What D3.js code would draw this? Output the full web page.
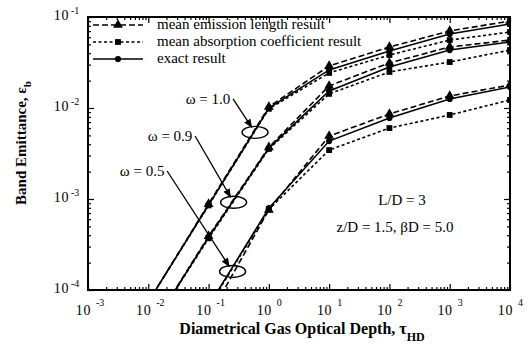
<!DOCTYPE html>
<html>
<head>
<meta charset="utf-8">
<script src="https://cdn.jsdelivr.net/npm/d3@7"></script>
<style>
  html, body { margin: 0; padding: 0; background: #fff; }
  svg { display: block; }
  text { font-family: "Liberation Serif", "Times New Roman", serif; fill: #000; }
</style>
</head>
<body>
<div id="chart"></div>
<script>
// ---------------- data ----------------
const tau = [0.01, 0.1, 1, 10, 100, 1000, 10000];

// omega = 1.0
const emission10   = [7.4e-5, 8.8e-4, 0.0103, 0.0290, 0.0468, 0.0702, 0.0904];
const absorption10 = [7.4e-5, 8.5e-4, 0.0098, 0.0243, 0.0382, 0.0558, 0.0684];
const exact10      = [7.4e-5, 8.6e-4, 0.0100, 0.0262, 0.0423, 0.0650, 0.0838];
// omega = 0.9
const emission09   = [3.4e-5, 3.9e-4, 0.0037, 0.0175, 0.0313, 0.0468, 0.0558];
const absorption09 = [3.4e-5, 3.7e-4, 0.00355, 0.0143, 0.0249, 0.0320, 0.0433];
const exact09      = [3.4e-5, 3.8e-4, 0.00363, 0.0154, 0.0282, 0.0433, 0.0531];
// omega = 0.5
const emission05   = [5.0e-6, 5.0e-5, 7.6e-4, 0.00492, 0.0086, 0.01355, 0.0179];
const absorption05 = [6.0e-6, 6.5e-5, 7.7e-4, 0.00345, 0.00602, 0.00838, 0.01225];
const exact05      = [6.0e-6, 6.7e-5, 7.9e-4, 0.00433, 0.00776, 0.01256, 0.0170];

const xTickExp = [-3, -2, -1, 0, 1, 2, 3, 4];
const yTickExp = [-4, -3, -2, -1];

const legendLabels = ["mean emission length result", "mean absorption coefficient result", "exact result"];
const omegaLabels = ["\u03c9 = 1.0", "\u03c9 = 0.9", "\u03c9 = 0.5"];
// ellipse locations (tau, eps) pointed at by each label
const omegaTargets = [[0.59, 0.0054], [0.26, 0.00092], [0.25, 0.000160]];
// label anchor (tau, eps) for each label text
const omegaTextPos = [[0.098, 0.0111], [0.023, 0.00434], [0.0079, 0.00179]];

// ---------------- layout ----------------
const W = 530, H = 347;
const L = 88, R = 510, T = 17, B = 290;

const svg = d3.select("#chart").append("svg").attr("width", W).attr("height", H);

const x = d3.scaleLog().domain([1e-3, 1e4]).range([L, R]);
const y = d3.scaleLog().domain([1e-4, 1e-1]).range([B, T]);

const defs = svg.append("defs");
defs.append("clipPath").attr("id", "clip")
  .append("rect").attr("x", L).attr("y", T).attr("width", R - L).attr("height", B - T);

// ---------------- axes (ticks inward) ----------------
const majorX = xTickExp.map(e => Math.pow(10, e));
const majorY = yTickExp.map(e => Math.pow(10, e));
const minorX = [], minorY = [];
for (let e = -3; e < 4; e++) for (let k = 2; k <= 9; k++) minorX.push(k * Math.pow(10, e));
for (let e = -4; e < -1; e++) for (let k = 2; k <= 9; k++) minorY.push(k * Math.pow(10, e));

function drawAxis(axisGen, tx, ty) {
  const g = svg.append("g").attr("transform", `translate(${tx},${ty})`).call(axisGen);
  g.selectAll("text").remove();
  g.select(".domain").remove();
  g.selectAll("line").attr("stroke", "#000").attr("stroke-width", 1.2);
  return g;
}
drawAxis(d3.axisBottom(x).tickValues(majorX).tickSize(-6), 0, B);
drawAxis(d3.axisBottom(x).tickValues(minorX).tickSize(-3), 0, B);
drawAxis(d3.axisTop(x).tickValues(majorX).tickSize(-6), 0, T);
drawAxis(d3.axisTop(x).tickValues(minorX).tickSize(-3), 0, T);
drawAxis(d3.axisLeft(y).tickValues(majorY).tickSize(-6), L, 0);
drawAxis(d3.axisLeft(y).tickValues(minorY).tickSize(-3), L, 0);
drawAxis(d3.axisRight(y).tickValues(majorY).tickSize(-6), R, 0);
drawAxis(d3.axisRight(y).tickValues(minorY).tickSize(-3), R, 0);

svg.append("rect").attr("x", L).attr("y", T).attr("width", R - L).attr("height", B - T)
  .attr("fill", "none").attr("stroke", "#000").attr("stroke-width", 2);

// tick labels
xTickExp.forEach(e => {
  const px = x(Math.pow(10, e));
  svg.append("text").attr("x", px + 3).attr("y", 315).attr("text-anchor", "end")
    .attr("font-size", 14).attr("letter-spacing", 0.6).text("10");
  svg.append("text").attr("x", px + 8).attr("y", 306).attr("text-anchor", "start")
    .attr("font-size", 10).text(e < 0 ? "-" + (-e) : String(e));
});
yTickExp.forEach(e => {
  const py = y(Math.pow(10, e));
  svg.append("text").attr("x", 69).attr("y", py + 3).attr("text-anchor", "end")
    .attr("font-size", 14).attr("letter-spacing", 0.6).text("10");
  svg.append("text").attr("x", 71).attr("y", py - 3).attr("text-anchor", "start")
    .attr("font-size", 10).text("-" + (-e));
});

// axis titles
const xt = svg.append("text").attr("x", 302).attr("y", 334).attr("text-anchor", "middle")
  .attr("font-size", 16).attr("font-weight", "bold");
xt.append("tspan").text("Diametrical Gas Optical Depth,  \u03c4");
xt.append("tspan").attr("font-size", 12).attr("dy", 7).text("HD");

const yt = svg.append("text").attr("transform", "translate(26,143) rotate(-90)")
  .attr("text-anchor", "middle").attr("font-size", 15).attr("font-weight", "bold");
yt.append("tspan").text("Band Emittance,  \u03b5");
yt.append("tspan").attr("font-size", 11).attr("dy", 5).text("b");

// ---------------- series ----------------
const styles = {
  emission:   { dash: "6,3", symbol: d3.symbolTriangle, size: 42 },
  absorption: { dash: "3,2.5", symbol: d3.symbolSquare, size: 34 },
  exact:      { dash: null, symbol: d3.symbolCircle, size: 30 }
};
const series = [
  { type: "emission", values: emission10 }, { type: "absorption", values: absorption10 }, { type: "exact", values: exact10 },
  { type: "emission", values: emission09 }, { type: "absorption", values: absorption09 }, { type: "exact", values: exact09 },
  { type: "emission", values: emission05 }, { type: "absorption", values: absorption05 }, { type: "exact", values: exact05 }
];

const plot = svg.append("g").attr("clip-path", "url(#clip)");
const line = d3.line().x(d => x(d[0])).y(d => y(d[1]));

series.forEach(s => {
  const st = styles[s.type];
  const pts = tau.map((t, i) => [t, s.values[i]]);
  plot.append("path").datum(pts).attr("d", line)
    .attr("fill", "none").attr("stroke", "#000").attr("stroke-width", 1.6)
    .attr("stroke-dasharray", st.dash);
  plot.selectAll(null).data(pts).enter().append("path")
    .attr("transform", d => `translate(${x(d[0])},${y(d[1])})`)
    .attr("d", d3.symbol().type(st.symbol).size(st.size))
    .attr("fill", "#000");
});

// ---------------- legend ----------------
const legendTypes = ["emission", "absorption", "exact"];
legendTypes.forEach((t, i) => {
  const st = styles[t];
  const ly = 25 + i * 17;
  svg.append("line").attr("x1", 93).attr("x2", 143).attr("y1", ly).attr("y2", ly)
    .attr("stroke", "#000").attr("stroke-width", 1.6).attr("stroke-dasharray", st.dash);
  svg.append("path").attr("transform", `translate(118,${ly})`)
    .attr("d", d3.symbol().type(st.symbol).size(st.size)).attr("fill", "#000");
  svg.append("text").attr("x", 157).attr("y", ly + 4).attr("font-size", 15).text(legendLabels[i]);
});

// ---------------- omega annotations ----------------
defs.append("marker").attr("id", "arrow")
  .attr("viewBox", "0 0 10 10").attr("refX", 9).attr("refY", 5)
  .attr("markerWidth", 7).attr("markerHeight", 7).attr("orient", "auto")
  .append("path").attr("d", "M0,1 L10,5 L0,9 Z").attr("fill", "#000");

omegaLabels.forEach((lab, i) => {
  const [tx, ty] = omegaTextPos[i];
  const [ex, ey] = omegaTargets[i];
  const px = x(tx), py = y(ty);
  const cx = x(ex), cy = y(ey);
  svg.append("text").attr("x", px).attr("y", py).attr("text-anchor", "middle")
    .attr("font-size", 15).text(lab);
  const sx = px + 25, sy = py - 5;
  const dx = cx - sx, dy = cy - sy, len = Math.hypot(dx, dy);
  svg.append("line").attr("x1", sx).attr("y1", sy)
    .attr("x2", cx - dx / len * 6).attr("y2", cy - dy / len * 6)
    .attr("stroke", "#000").attr("stroke-width", 1.3).attr("marker-end", "url(#arrow)");
  svg.append("ellipse").attr("cx", cx).attr("cy", cy).attr("rx", 13).attr("ry", 6)
    .attr("fill", "none").attr("stroke", "#000").attr("stroke-width", 1.4);
});

// parameters
svg.append("text").attr("x", 402).attr("y", 205).attr("text-anchor", "middle")
  .attr("font-size", 15).text("L/D = 3");
svg.append("text").attr("x", 395).attr("y", 232).attr("text-anchor", "middle")
  .attr("font-size", 15).text("z/D = 1.5, \u03b2D = 5.0");
</script>
</body>
</html>
